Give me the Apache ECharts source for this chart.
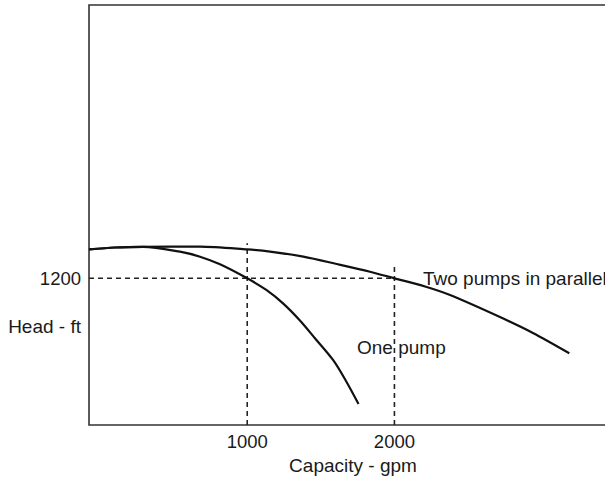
<!DOCTYPE html>
<html>
<head>
<meta charset="utf-8">
<script src="https://cdn.jsdelivr.net/npm/echarts@6/dist/echarts.min.js"></script>
<style>html,body{margin:0;padding:0;background:#fff;}#c{width:605px;height:482px;}</style>
</head>
<body>
<div id="c"></div>
<script>
// Data (capacity in gpm, head in ft)
const xTickValues = [1000, 2000];
const yTickValues = [1200];
const twoPumpsCapacity = [-75, 102, 292, 679, 1000, 1155, 1381, 1608, 1834, 2000, 2208, 2378, 2717, 2941, 3188];
const twoPumpsHead     = [1437, 1452, 1458, 1460, 1437, 1419, 1377, 1317, 1254, 1200, 1133, 1063, 883, 753, 587];
const onePumpCapacity  = [-75, 102, 292, 543, 679, 815, 1000, 1132, 1245, 1358, 1460, 1583, 1671, 1756];
const onePumpHead      = [1437, 1452, 1458, 1418, 1377, 1315, 1200, 1103, 993, 855, 710, 532, 360, 172];
const guideHeadX = [-75, 2000];
const guideHeadY = [1200, 1200];
const guide1000X = [1000, 1000];
const guide1000Y = [0, 1486];
const guide2000X = [2000, 2000];
const guide2000Y = [0, 1295];

const zip = (a, b) => a.map((v, i) => [v, b[i]]);
const FONT = '"Liberation Sans", Arial, Helvetica, sans-serif';
const TXT = '#1a1a1a';

const chart = echarts.init(document.getElementById('c'), null, {renderer: 'svg'});
const dashed = {color: '#222', width: 1.6, type: [5, 4]};
const curve = {color: '#111', width: 2.2};
chart.setOption({
  animation: false,
  backgroundColor: '#fff',
  grid: {left: 89, top: 5, width: 519, bottom: 57, outerBoundsMode: 'none', containLabel: false,
         show: true, borderColor: '#333', borderWidth: 1.6, backgroundColor: 'transparent'},
  xAxis: {
    type: 'value', min: -75, max: 3451,
    axisLine: {show: false}, axisTick: {show: false}, splitLine: {show: false},
    axisLabel: {customValues: xTickValues, formatter: v => String(v), fontSize: 18.5, color: TXT, fontFamily: FONT, margin: 7},
    name: 'Capacity - gpm', nameLocation: 'middle', nameGap: 31,
    nameTextStyle: {fontSize: 19, color: TXT, fontFamily: FONT, padding: [0, 0, 0, 9]}
  },
  yAxis: {
    type: 'value', min: 0, max: 3436,
    axisLine: {show: false}, axisTick: {show: false}, splitLine: {show: false},
    axisLabel: {customValues: yTickValues, formatter: v => String(v), fontSize: 18.5, color: TXT, fontFamily: FONT, margin: 8}
  },
  graphic: [
    {type: 'text', x: 81, y: 326, style: {text: 'Head - ft', align: 'right', verticalAlign: 'middle', fontSize: 19, fontFamily: FONT, fill: TXT}},
    {type: 'text', x: 423, y: 278, style: {text: 'Two pumps in parallel', align: 'left', verticalAlign: 'middle', fontSize: 19, fontFamily: FONT, fill: TXT}},
    {type: 'text', x: 357, y: 347, style: {text: 'One pump', align: 'left', verticalAlign: 'middle', fontSize: 19, fontFamily: FONT, fill: TXT}}
  ],
  series: [
    {type: 'line', data: zip(guideHeadX, guideHeadY), symbol: 'none', lineStyle: dashed, z: 1},
    {type: 'line', data: zip(guide1000X, guide1000Y), symbol: 'none', lineStyle: dashed, z: 1},
    {type: 'line', data: zip(guide2000X, guide2000Y), symbol: 'none', lineStyle: dashed, z: 1},
    {type: 'line', name: 'Two pumps in parallel', data: zip(twoPumpsCapacity, twoPumpsHead), smooth: 0.3, symbol: 'none', lineStyle: curve, z: 3},
    {type: 'line', name: 'One pump', data: zip(onePumpCapacity, onePumpHead), smooth: 0.3, symbol: 'none', lineStyle: curve, z: 3}
  ]
});
</script>
</body>
</html>
